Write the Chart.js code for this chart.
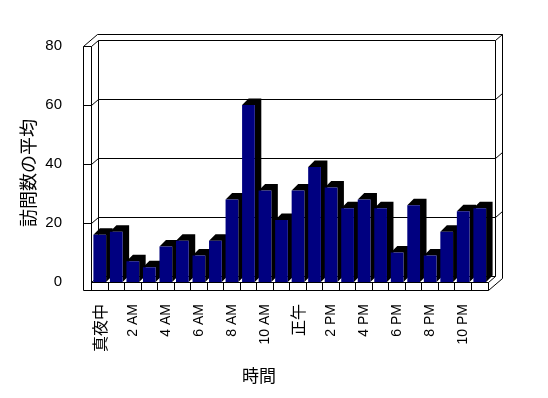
<!DOCTYPE html>
<html>
<head>
<meta charset="utf-8">
<script src="https://cdn.jsdelivr.net/npm/chart.js@4"></script>
<style>
  body { margin: 0; background: #fff; }
</style>
</head>
<body>
<canvas id="diagram" width="548" height="398"></canvas>
<script>
// 時間帯 (every second label is shown on the axis)
const hours = [
  "真夜中", "1 AM", "2 AM", "3 AM", "4 AM", "5 AM", "6 AM", "7 AM", "8 AM", "9 AM", "10 AM", "11 AM",
  "正午", "1 PM", "2 PM", "3 PM", "4 PM", "5 PM", "6 PM", "7 PM", "8 PM", "9 PM", "10 PM", "11 PM",
];

// 訪問数の平均
const visits = [16, 17, 7, 5, 12, 14, 9, 14, 28, 60, 31, 21, 31, 39, 32, 25, 28, 25, 10, 26, 9, 17, 24, 25];

const yTicks = [0, 20, 40, 60, 80];
const yTitle = "訪問数の平均";
const xTitle = "時間";

const fontLatin = '"Liberation Sans", "Noto Sans CJK JP", sans-serif';
const fontCJK = '"Noto Sans CJK JP", sans-serif';

// 3d look: front -> back wall, back wall thickness, bar depth
const depth = { x: 7, y: -6 };
const slab = { x: 7, y: -5.5 };
const barDepth = { x: 6.5, y: -6.5 };
const wall = 8;

function crisp(v) {
  return Math.floor(v) + 0.5;
}

function line(ctx, pts) {
  ctx.beginPath();
  pts.forEach((p, i) => {
    if (i === 0) ctx.moveTo(crisp(p[0]), crisp(p[1]));
    else ctx.lineTo(crisp(p[0]), crisp(p[1]));
  });
  ctx.stroke();
}

const walls = {
  id: "walls",
  beforeDatasetsDraw(chart) {
    const ctx = chart.ctx;
    const y = chart.scales.y;
    const L = chart.chartArea.left;
    const R = chart.chartArea.right;
    const T = y.getPixelForValue(80);
    const B = y.getPixelForValue(0);
    const dx = depth.x, dy = depth.y, sx = slab.x, sy = slab.y;

    ctx.save();
    ctx.strokeStyle = "#000";
    ctx.lineWidth = 1;

    // back wall
    line(ctx, [[L + dx, B + dy], [L + dx, T + dy], [R + dx, T + dy], [R + dx, B + dy]]);
    line(ctx, [[L + dx, B + dy], [R + dx, B + dy]]);
    // back wall thickness
    line(ctx, [[L - wall + dx + sx, T + dy + sy], [R + dx + sx, T + dy + sy], [R + dx + sx, B + wall + dy + sy]]);
    line(ctx, [[R + dx, T + dy], [R + dx + sx, T + dy + sy]]);

    // left wall
    line(ctx, [[L - wall, B + wall], [L - wall, T], [L, T], [L, B + wall]]);
    line(ctx, [[L - wall, T], [L - wall + dx + sx, T + dy + sy]]);
    line(ctx, [[L, T], [L + dx, T + dy]]);

    // grid lines
    yTicks.forEach((v) => {
      if (v === 0 || v === 80) return;
      const py = y.getPixelForValue(v);
      line(ctx, [[L - wall, py], [L, py], [L + dx, py + dy], [R + dx, py + dy], [R + dx + sx, py + dy + sy]]);
    });

    // floor
    line(ctx, [[L, B], [R, B], [R, B + wall], [L - wall, B + wall]]);
    line(ctx, [[L, B], [L + dx, B + dy]]);
    line(ctx, [[R, B], [R + dx, B + dy]]);
    line(ctx, [[R, B + wall], [R + dx + sx, B + wall + dy + sy]]);
    const step = (R - L) / hours.length;
    for (let i = 1; i < hours.length; i++) {
      line(ctx, [[L + i * step, B], [L + i * step, B + wall]]);
    }

    // dark top and side of each bar
    ctx.fillStyle = "#000";
    chart.getDatasetMeta(0).data.forEach((bar) => {
      const p = bar.getProps(["x", "y", "base", "width"], true);
      const left = p.x - p.width / 2;
      const right = p.x + p.width / 2;
      ctx.beginPath();
      ctx.moveTo(left, p.y);
      ctx.lineTo(left + barDepth.x, p.y + barDepth.y);
      ctx.lineTo(right + barDepth.x, p.y + barDepth.y);
      ctx.lineTo(right + barDepth.x, p.base + barDepth.y);
      ctx.lineTo(right, p.base);
      ctx.lineTo(right, p.y);
      ctx.closePath();
      ctx.fill();
    });
    ctx.restore();
  },
  afterDraw(chart) {
    const ctx = chart.ctx;
    ctx.save();
    ctx.fillStyle = "#000";
    ctx.textAlign = "center";
    ctx.textBaseline = "middle";
    ctx.font = "17px " + fontCJK;
    ctx.fillText(xTitle, 259, 376);
    ctx.translate(28, 173);
    ctx.rotate(-Math.PI / 2);
    ctx.font = "18px " + fontCJK;
    ctx.fillText(yTitle, 0, 0);
    ctx.restore();
  },
};

const data = {
  labels: hours,
  datasets: [
    {
      label: yTitle,
      data: visits,
      backgroundColor: "#000080",
      borderWidth: 0,
      barPercentage: 0.77,
      categoryPercentage: 1,
    },
  ],
};

const config = {
  type: "bar",
  data: data,
  options: {
    animation: false,
    responsive: false,
    layout: {
      padding: { left: 41.5, right: 60, top: 46, bottom: 0 },
    },
    plugins: {
      legend: { display: false },
      tooltip: { enabled: false },
    },
    scales: {
      x: {
        grid: { display: false },
        border: { display: false },
        ticks: {
          autoSkip: false,
          maxRotation: 90,
          minRotation: 90,
          padding: 14,
          color: "#000",
          font: (c) => {
            const label = c.tick ? String(c.tick.label) : "";
            return /[^\x00-\x7F]/.test(label)
              ? { size: 16, family: fontCJK }
              : { size: 14, family: fontLatin };
          },
          callback: function (value, i) {
            return i % 2 === 0 ? this.getLabelForValue(value) : "";
          },
        },
        afterFit(scale) {
          scale.height = 116;
        },
      },
      y: {
        min: 0,
        max: 80,
        grid: { display: false },
        border: { display: false },
        afterBuildTicks(scale) {
          scale.ticks = yTicks.map((v) => ({ value: v }));
        },
        ticks: {
          padding: 21.5,
          color: "#000",
          font: { size: 15, family: fontLatin },
        },
        afterFit(scale) {
          scale.width = 50;
        },
      },
    },
  },
  plugins: [walls],
};

const canvas = document.getElementById("diagram");
const chart = new Chart(canvas, config);
</script>
</body>
</html>
